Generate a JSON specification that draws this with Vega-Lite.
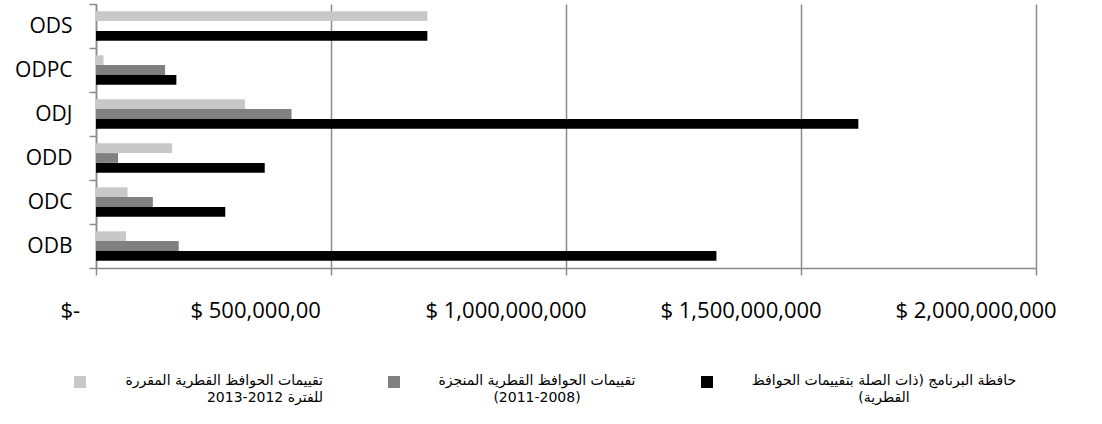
{
  "$schema": "https://vega.github.io/schema/vega-lite/v6.json",
  "width": 940,
  "height": 264,
  "autosize": {"type": "none"},
  "padding": {"left": 96, "top": 4, "right": 66, "bottom": 156},
  "background": "white",
  "config": {"view": {"stroke": null}, "font": "Open Sans"},
  "data": {
    "values": [
      {"office": "ODS", "series": "تقييمات الحوافظ القطرية المقررة للفترة 2012-2013", "value": 705000000},
      {"office": "ODS", "series": "تقييمات الحوافظ القطرية المنجزة (2008-2011)", "value": 0},
      {"office": "ODS", "series": "حافظة البرنامج (ذات الصلة بتقييمات الحوافظ القطرية)", "value": 705000000},
      {"office": "ODPC", "series": "تقييمات الحوافظ القطرية المقررة للفترة 2012-2013", "value": 16000000},
      {"office": "ODPC", "series": "تقييمات الحوافظ القطرية المنجزة (2008-2011)", "value": 147000000},
      {"office": "ODPC", "series": "حافظة البرنامج (ذات الصلة بتقييمات الحوافظ القطرية)", "value": 171000000},
      {"office": "ODJ", "series": "تقييمات الحوافظ القطرية المقررة للفترة 2012-2013", "value": 317000000},
      {"office": "ODJ", "series": "تقييمات الحوافظ القطرية المنجزة (2008-2011)", "value": 416000000},
      {"office": "ODJ", "series": "حافظة البرنامج (ذات الصلة بتقييمات الحوافظ القطرية)", "value": 1622000000},
      {"office": "ODD", "series": "تقييمات الحوافظ القطرية المقررة للفترة 2012-2013", "value": 162000000},
      {"office": "ODD", "series": "تقييمات الحوافظ القطرية المنجزة (2008-2011)", "value": 47000000},
      {"office": "ODD", "series": "حافظة البرنامج (ذات الصلة بتقييمات الحوافظ القطرية)", "value": 359000000},
      {"office": "ODC", "series": "تقييمات الحوافظ القطرية المقررة للفترة 2012-2013", "value": 67000000},
      {"office": "ODC", "series": "تقييمات الحوافظ القطرية المنجزة (2008-2011)", "value": 121000000},
      {"office": "ODC", "series": "حافظة البرنامج (ذات الصلة بتقييمات الحوافظ القطرية)", "value": 275000000},
      {"office": "ODB", "series": "تقييمات الحوافظ القطرية المقررة للفترة 2012-2013", "value": 64000000},
      {"office": "ODB", "series": "تقييمات الحوافظ القطرية المنجزة (2008-2011)", "value": 176000000},
      {"office": "ODB", "series": "حافظة البرنامج (ذات الصلة بتقييمات الحوافظ القطرية)", "value": 1320000000}
    ]
  },
  "mark": {"type": "bar"},
  "encoding": {
    "y": {
      "field": "office",
      "type": "nominal",
      "sort": ["ODS", "ODPC", "ODJ", "ODD", "ODC", "ODB"],
      "scale": {"paddingInner": 0, "paddingOuter": 0},
      "axis": {
        "title": null,
        "tickBand": "extent",
        "grid": false,
        "domainColor": "#8c8c8c",
        "domainWidth": 1.5,
        "tickColor": "#8c8c8c",
        "tickWidth": 1.5,
        "tickSize": 7,
        "labelFont": "Open Sans",
        "labelFontSize": 21,
        "labelColor": "#000000",
        "labelPadding": 17
      }
    },
    "yOffset": {
      "field": "series",
      "type": "nominal",
      "sort": [
        "تقييمات الحوافظ القطرية المقررة للفترة 2012-2013",
        "تقييمات الحوافظ القطرية المنجزة (2008-2011)",
        "حافظة البرنامج (ذات الصلة بتقييمات الحوافظ القطرية)"
      ],
      "scale": {"paddingInner": 0, "paddingOuter": 0.75}
    },
    "x": {
      "field": "value",
      "type": "quantitative",
      "scale": {"domain": [0, 2000000000], "nice": false},
      "axis": {
        "title": null,
        "values": [0, 500000000, 1000000000, 1500000000, 2000000000],
        "labelExpr": "datum.value == 0 ? '$-' : (datum.value == 500000000 ? '$ 500,000,00' : '$ ' + format(datum.value, ','))",
        "grid": true,
        "gridColor": "#8c8c8c",
        "gridWidth": 1.5,
        "domainColor": "#8c8c8c",
        "domainWidth": 1.5,
        "tickColor": "#8c8c8c",
        "tickWidth": 1.5,
        "tickSize": 7,
        "labelFont": "Open Sans",
        "labelFontSize": 22,
        "labelColor": "#000000",
        "labelAlign": "left",
        "labelBaseline": "top",
        "labelPadding": 25,
        "labelOffset": {"condition": {"test": "datum.value == 0", "value": -36}, "value": -141},
        "labelOverlap": false,
        "labelFlush": false,
        "labelBound": false
      }
    },
    "color": {
      "field": "series",
      "type": "nominal",
      "scale": {
        "domain": [
          "تقييمات الحوافظ القطرية المقررة للفترة 2012-2013",
          "تقييمات الحوافظ القطرية المنجزة (2008-2011)",
          "حافظة البرنامج (ذات الصلة بتقييمات الحوافظ القطرية)"
        ],
        "range": ["#c8c8c8", "#808080", "#000000"]
      },
      "legend": {
        "title": null,
        "orient": "none",
        "legendX": -23,
        "legendY": 371,
        "direction": "horizontal",
        "columns": 3,
        "columnPadding": 64,
        "padding": 0,
        "symbolType": "square",
        "symbolSize": 144,
        "symbolStrokeWidth": 0,
        "labelFont": "DejaVu Sans",
        "labelFontSize": 14,
        "labelColor": "#000000",
        "labelLimit": 400,
        "labelOffset": 38,
        "labelBaseline": "top",
        "labelExpr": "indexof(datum.label, 'البرنامج') >= 0 ? ['حافظة البرنامج (ذات الصلة بتقييمات الحوافظ', '(القطرية'] : (indexof(datum.label, 'المنجزة') >= 0 ? ['تقييمات الحوافظ القطرية المنجزة', '(2011-2008)'] : ['تقييمات الحوافظ القطرية المقررة', 'للفترة 2012-2013'])",
        "encode": {
          "labels": {
            "update": {
              "dy": {"value": -8},
              "lineHeight": {"value": 17},
              "align": {"signal": "indexof(datum.value, 'المقررة') >= 0 ? 'right' : 'center'"},
              "dx": {"signal": "indexof(datum.value, 'المقررة') >= 0 ? 198 : (indexof(datum.value, 'المنجزة') >= 0 ? 98 : 132)"}
            }
          }
        }
      }
    }
  }
}
